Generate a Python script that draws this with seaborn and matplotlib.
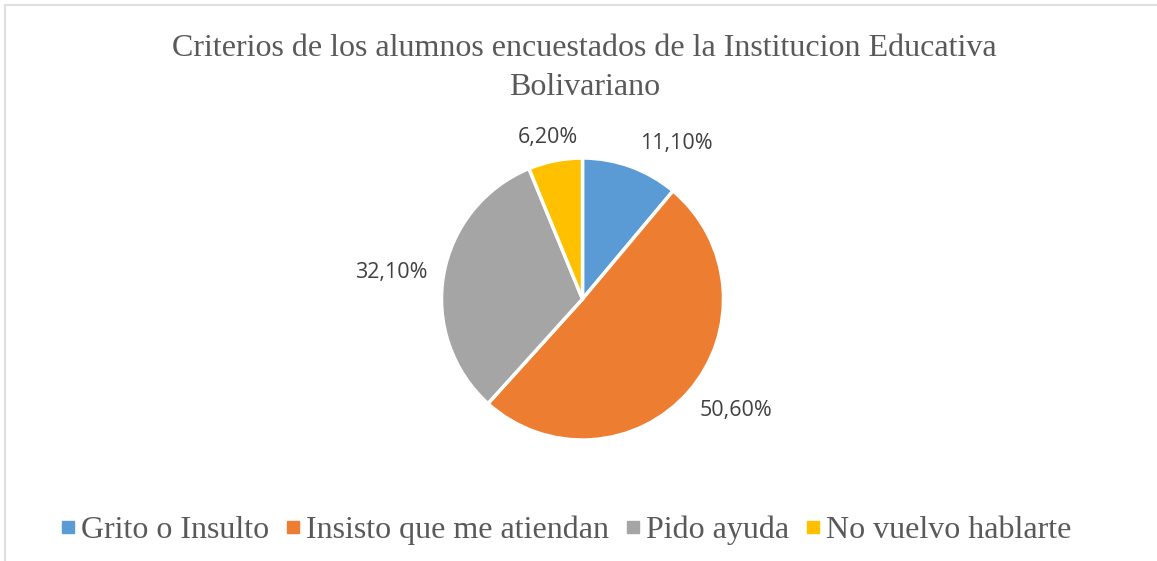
import matplotlib
matplotlib.use("Agg")
import matplotlib.pyplot as plt
import seaborn as sns
import numpy as np
from matplotlib.patches import Rectangle
from matplotlib.lines import Line2D

sns.set_theme(style="white")

categories = ["Grito o Insulto", "Insisto que me atiendan", "Pido ayuda", "No vuelvo hablarte"]
values = [11.1, 50.6, 32.1, 6.2]
colors = ["#5B9BD5", "#ED7D31", "#A5A5A5", "#FFC000"]
title = "Criterios de los alumnos encuestados de la Institucion Educativa\nBolivariano"

W, H = 1157, 561
fig = plt.figure(figsize=(W / 100, H / 100), dpi=100, facecolor="white")

# pie axes: centre ~ (582, 299) px, radius ~141 px
r = 141
cx, cy = 582.5, H - 299
ax = fig.add_axes([(cx - r) / W, (cy - r) / H, 2 * r / W, 2 * r / H])

wedges, _ = ax.pie(
    values,
    colors=colors,
    startangle=90,
    counterclock=False,
    wedgeprops=dict(edgecolor="white", linewidth=2.5),
)
ax.set_xlim(-1, 1)
ax.set_ylim(-1, 1)
ax.set_aspect("equal")
ax.axis("off")

# data labels outside the slices (Excel "best fit" style)
dists = [1.29, 1.35, 1.37, 1.17]
shifts = [-11, 5, 2, 1]  # degrees nudge from slice middle
for w, v, d, s in zip(wedges, values, dists, shifts):
    ang = np.deg2rad((w.theta1 + w.theta2) / 2 + s)
    ax.text(d * np.cos(ang), d * np.sin(ang), f"{v:.2f}%".replace(".", ","),
            ha="center", va="center", fontsize=15.5, family="Open Sans", color="#404040")

fig.text(0.505, 1 - 68 / H, title, ha="center", va="center", fontsize=23,
         family="Liberation Serif", color="#595959", linespacing=1.42)

handles = [Line2D([], [], marker="s", linestyle="", markersize=8, color=c) for c in colors]
fig.legend(handles, categories, loc="center", bbox_to_anchor=(0.489, 1 - 530 / H), ncol=4,
           frameon=False, handlelength=0.5, handletextpad=0.15, columnspacing=0.5,
           prop=dict(family="Liberation Serif", size=23), labelcolor="#595959")

# chart border (only top and left edges are visible in the crop)
fig.add_artist(Rectangle((5.5 / W, -0.1), (W + 20) / W, 1.1 - 5 / H,
                         transform=fig.transFigure, fill=False, edgecolor="#D9D9D9",
                         linewidth=1.2))

fig.savefig("out.png", dpi=100, facecolor="white")
